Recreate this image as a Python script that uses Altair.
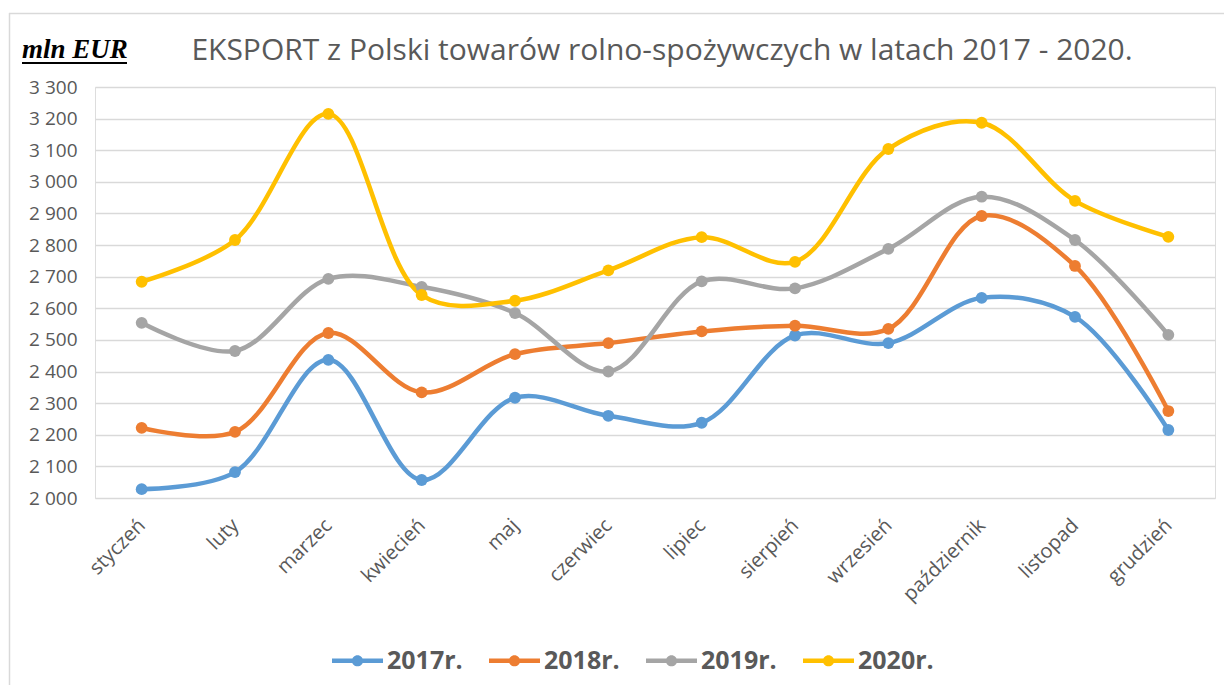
import altair as alt
import pandas as pd

months = ["styczeń", "luty", "marzec", "kwiecień", "maj", "czerwiec",
          "lipiec", "sierpień", "wrzesień", "październik", "listopad", "grudzień"]
series_names = ["2017r.", "2018r.", "2019r.", "2020r."]
v2017 = [2028, 2082, 2437, 2057, 2317, 2260, 2238, 2514, 2490, 2633, 2573, 2215]
v2018 = [2222, 2209, 2522, 2334, 2455, 2490, 2527, 2545, 2535, 2892, 2734, 2275]
v2019 = [2554, 2465, 2693, 2668, 2585, 2400, 2685, 2663, 2788, 2953, 2816, 2516]
v2020 = [2684, 2816, 3215, 2642, 2624, 2720, 2825, 2747, 3104, 3187, 2940, 2826]
colors = ["#5B9BD5", "#ED7D31", "#A5A5A5", "#FFC000"]
y_ticks = list(range(2000, 3301, 100))
title_text = "EKSPORT z Polski towarów rolno-spożywczych w latach 2017 - 2020."
unit_text = "mln EUR"

rows = []
for name, vals in zip(series_names, [v2017, v2018, v2019, v2020]):
    for m, v in zip(months, vals):
        rows.append({"miesiac": m, "rok": name, "wartosc": v})
df = pd.DataFrame(rows)

W, H = 1120, 411
PAD_L, PAD_T = 87, 79
PAD_R = 1216 - PAD_L - W
PAD_B = 677 - PAD_T - H

font = "Open Sans"
grey_txt = "#595959"

x_enc = alt.X("miesiac:N", sort=months, title=None,
              scale=alt.Scale(type="point", padding=0.5),
              axis=alt.Axis(labelAngle=-45, labelFontSize=20, labelColor=grey_txt,
                            labelFont=font, ticks=False, domain=False, grid=False,
                            labelPadding=24, labelAlign="right", labelBaseline="middle"))
y_enc = alt.Y("wartosc:Q", title=None,
              scale=alt.Scale(domain=[2000, 3300], nice=False, zero=False),
              axis=alt.Axis(values=y_ticks, labelFontSize=19, labelColor=grey_txt,
                            labelFont=font, ticks=False, domain=False,
                            gridColor="#D9D9D9", gridWidth=1.5, labelPadding=18,
                            labelExpr="replace(format(datum.value, ','), ',', ' ')"))
color_scale = alt.Scale(domain=series_names, range=colors)

sym_path = ("M-1,-0.09H1V0.09H-1Z "
            "M0.22,0A0.22,0.22,0,1,1,-0.22,0A0.22,0.22,0,1,1,0.22,0Z")
legend = alt.Legend(orient="none", direction="horizontal",
                    legendX=237, legendY=548, columns=4,
                    symbolType=sym_path, symbolSize=2601,
                    symbolStrokeWidth=0, symbolOpacity=1,
                    labelFontSize=25, labelFontWeight="bold",
                    labelFont=font, labelColor=grey_txt,
                    labelOffset=4, columnPadding=26)
color_enc = alt.Color("rok:N", scale=color_scale, title=None, legend=legend)

lines = alt.Chart(df).mark_line(strokeWidth=4.5, interpolate="catmull-rom").encode(
    x=x_enc, y=y_enc, color=color_enc, detail="rok:N",
)
points = alt.Chart(df).mark_point(filled=True, size=140, opacity=1).encode(
    x=x_enc, y=y_enc, color=color_enc, fill=alt.Fill("rok:N", scale=color_scale, legend=legend),
)

title_df = pd.DataFrame({"t": [title_text]})
title_mark = alt.Chart(title_df).mark_text(
    font=font, fontSize=30, color=grey_txt, align="center", baseline="alphabetic"
).encode(text="t:N", x=alt.value(662 - 95), y=alt.value(60 - 87))

unit_df = pd.DataFrame({"t": [unit_text]})
unit_mark = alt.Chart(unit_df).mark_text(
    font="Liberation Serif", fontSize=27, fontWeight="bold", fontStyle="italic",
    color="#000000", align="left", baseline="alphabetic"
).encode(text="t:N", x=alt.value(22 - 95), y=alt.value(58 - 87))
underline = alt.Chart(unit_df).mark_rule(color="#000000", strokeWidth=2).encode(
    x=alt.value(22 - 95), x2=alt.value(127 - 95), y=alt.value(63 - 87))

border_v = alt.Chart(unit_df).mark_rule(color="#D9D9D9", strokeWidth=1.5).encode(
    x=alt.value(9.5 - 95), y=alt.value(13 - 87), y2=alt.value(700 - 87))
border_h = alt.Chart(unit_df).mark_rule(color="#D9D9D9", strokeWidth=1.5).encode(
    x=alt.value(9 - 95), x2=alt.value(1240 - 95), y=alt.value(13.5 - 87))

chart = alt.layer(border_v, border_h, lines, points, title_mark, unit_mark, underline).properties(
    width=W, height=H,
    autosize=alt.AutoSizeParams(type="none"),
    padding={"left": PAD_L, "top": PAD_T, "right": PAD_R, "bottom": PAD_B},
).configure_view(stroke=None).configure(background="white")

chart.save("out.html", embed_options={"renderer": "svg", "actions": False})
